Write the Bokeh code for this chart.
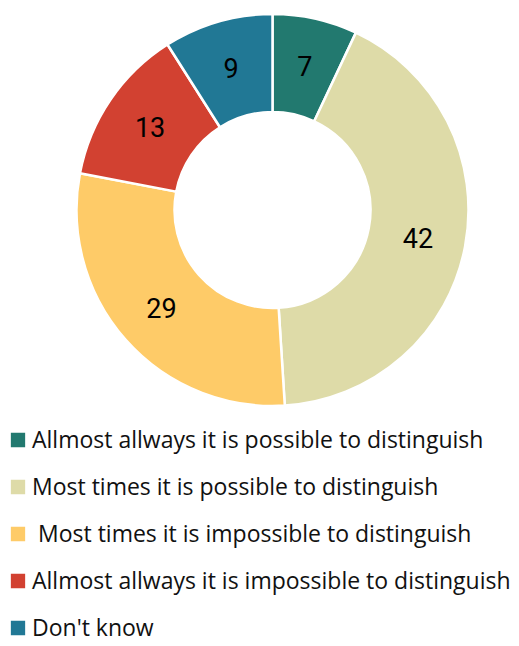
import math
from bokeh.plotting import figure
from bokeh.models import ColumnDataSource, Legend, LegendItem, Range1d
from bokeh.embed import file_html
from bokeh.resources import INLINE
from bokeh.core.properties import value

# ---- data ----
categories = [
    "Allmost allways it is possible to distinguish",
    "Most times it is possible to distinguish",
    " Most times it is impossible to distinguish",
    "Allmost allways it is impossible to distinguish",
    "Don't know",
]
values = [7, 42, 29, 13, 9]
colors = ["#22796F", "#DEDBA8", "#FECB68", "#D24131", "#217895"]

# ---- layout ----
W, H = 519, 646
CX, CY = 272, H - 209.5
R_OUT, R_IN = 196, 98
R_LAB = 148

total = float(sum(values))
starts, ends, lx, ly = [], [], [], []
cum = 0.0
for v in values:
    a0 = math.pi / 2 - 2 * math.pi * cum / total
    cum += v
    a1 = math.pi / 2 - 2 * math.pi * cum / total
    starts.append(a0)
    ends.append(a1)
    mid = (a0 + a1) / 2
    lx.append(CX + R_LAB * math.cos(mid))
    ly.append(CY + R_LAB * math.sin(mid))

src = ColumnDataSource(dict(cat=categories, val=values, color=colors,
                            start=starts, end=ends, lx=lx, ly=ly,
                            txt=[str(v) for v in values]))

p = figure(width=W, height=H, x_range=Range1d(0, W), y_range=Range1d(0, H),
           output_backend="svg", toolbar_location=None, min_border=0,
           x_axis_type=None, y_axis_type=None, outline_line_color=None)
p.grid.visible = False

r = p.annular_wedge(x=CX, y=CY, inner_radius=R_IN, outer_radius=R_OUT,
                    start_angle="start", end_angle="end", direction="clock",
                    fill_color="color", line_color="white", line_width=2.5,
                    source=src)

p.text(x="lx", y="ly", text="txt", source=src, text_align="center",
       text_baseline="middle", text_font=value("Roboto"),
       text_font_size="27px", text_color="#000000")

items = [LegendItem(label=c, renderers=[r], index=i) for i, c in enumerate(categories)]
legend = Legend(items=items, location=(7, 3), orientation="vertical",
                border_line_color=None, background_fill_alpha=0,
                padding=0, margin=0, spacing=15, glyph_width=21, glyph_height=21,
                label_height=32, label_standoff=4,
                label_text_font="Open Sans", label_text_font_size="23px",
                label_text_color="#111111")
p.add_layout(legend)

open("out.html", "w").write(file_html(p, INLINE))
